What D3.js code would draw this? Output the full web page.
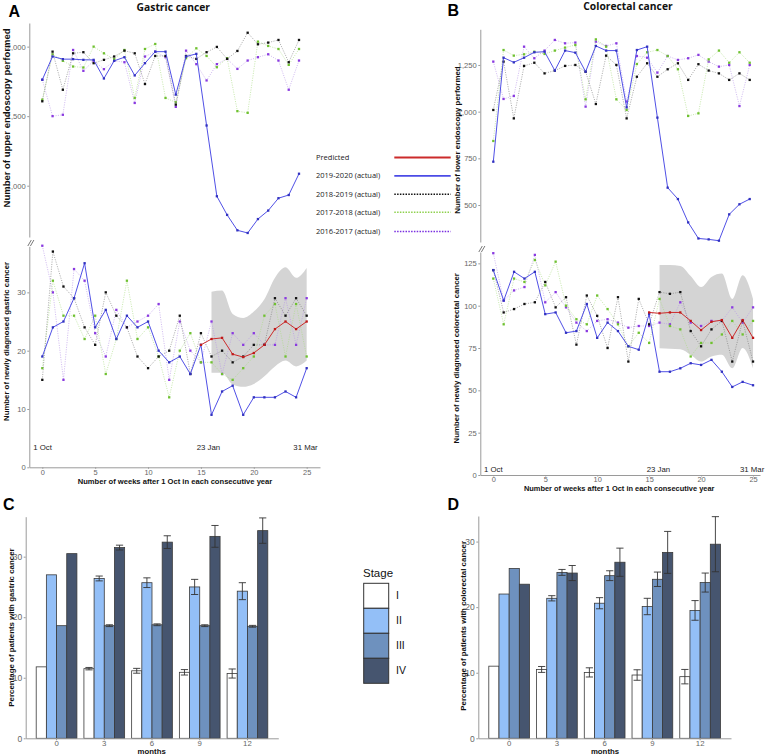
<!DOCTYPE html>
<html><head><meta charset="utf-8">
<script src="https://cdn.jsdelivr.net/npm/d3@7"></script>
<style>body{margin:0;background:#fff}svg{display:block}</style>
</head><body><svg id="c" width="767" height="755"></svg>
<script>
// ---------- DATA ----------
const weekTicks = [0, 5, 10, 15, 20, 25];
const seriesNames = ["Predicted", "2019-2020 (actual)", "2018-2019 (actual)", "2017-2018 (actual)", "2016-2017 (actual)"];

// Panel A top: upper endoscopy performed
const upperEndo2019 = [1762,1929,1910,1910,1905,1905,1771,1898,1924,1793,1881,1964,1964,1655,1929,1948,1433,924,790,679,660,760,821,910,933,1086];
const upperEndo2018 = [1607,1964,1690,1952,1960,1881,1905,1929,1971,1952,1731,1933,1933,1583,1933,1912,1960,1998,1912,1969,2100,2017,2029,2048,1888,2048];
const upperEndo2017 = [1619,1945,1898,1857,1850,2000,1952,1910,1976,1631,1983,2019,1631,1600,1917,1988,1933,1852,1917,1536,1524,2036,2005,1983,1869,1983];
const upperEndo2016 = [1762,1500,1510,1976,1826,1898,1838,1898,1888,1595,1929,1964,1924,1567,1971,1874,1757,1874,1912,1840,1900,1924,1945,1900,1690,1900];

// Panel A bottom: newly diagnosed gastric cancer
const gastric2019 = [19,24,25,29,35,24,27,22,26,24,25,20,18,19,16,21,9,13,14,9,12,12,12,13,12,17];
const gastric2018 = [15,37,31,29,24,21,30,26,24,19,17,19,20,26,16,23,19,20,18,19,21,21,29,26,29,26];
const gastric2017 = [17,32,26,26,22,26,16,22,32,22,24,19,12,20,23,18,18,16,15,17,19,26,28,19,28,19];
const gastric2016 = [38,30,15,34,32,23,19,27,24,25,26,28,15,25,20,18,25,16,23,21,23,21,21,29,21,29];
const predStart = 15;
const gastricPred = [21,22,22.2,19.4,18.9,19.6,21,23.7,25,23.7,25];
const bandStart = 16;
const gastricUpper = [30.1,30.3,26.3,25.6,26.7,28.8,32.5,34.3,32.5,34.2];
const gastricLower = [16.2,16.2,14.2,13.8,14.3,15.6,17.3,18.3,17.3,18.3];

// Panel B top: lower endoscopy performed
const lowerEndo2019 = [732,1289,1264,1289,1318,1321,1220,1327,1316,1214,1352,1327,1327,1023,1330,1348,968,593,532,407,321,316,309,450,504,532];
const lowerEndo2018 = [1009,1268,964,1245,1262,1205,1220,1245,1250,1214,1041,1300,1250,964,1187,1259,1187,1227,1259,1170,1254,1220,1205,1170,1205,1170];
const lowerEndo2017 = [843,1330,1300,1307,1321,1309,1327,1343,1357,1066,1387,1348,1066,1009,1255,1318,1330,1298,1227,977,991,1280,1327,1262,1318,1262];
const lowerEndo2016 = [1268,1068,1084,1348,1286,1327,1384,1366,1370,1027,1375,1352,1366,1054,1298,1289,1209,1298,1277,1286,1304,1268,1241,1250,1030,1250];

// Panel B bottom: newly diagnosed colorectal cancer
const crc2019 = [121,103,120,116,120,95,96,84,85,101,81,90,85,76,74,95,61,61,63,66,65,68,61,52,55,53];
const crc2018 = [121,96,98,101,102,114,99,105,77,106,94,75,105,67,104,89,108,107,108,85,76,86,91,67,91,67];
const crc2017 = [116,89,116,114,127,112,126,100,92,89,106,98,89,76,84,78,104,88,86,70,78,78,83,91,83,91];
const crc2016 = [131,103,109,111,130,102,108,99,90,85,91,92,90,87,88,88,90,89,102,90,88,91,91,99,90,99];
const crcPred = [96,95.5,96,96,91,85.6,90.5,91.5,81,91.5,81];
const crcUpper = [124,124,123.5,117.5,111,117,119,104,118,104];
const crcLower = [74.8,74.5,74.3,71,67,70,71,63,75,63];

// Panels C and D: stage distribution
const months = ["0","3","6","9","12"];
const stages = ["I","II","III","IV"];
const gastricStageI   = [11.8, 11.5, 11.15, 10.9, 10.7];
const gastricStageII  = [27.0, 26.4, 25.7, 25.0, 24.3];
const gastricStageIII = [18.6, 18.6, 18.75, 18.6, 18.5];
const gastricStageIV  = [30.5, 31.5, 32.4, 33.35, 34.3];
const gastricErrI   = [0, 0.2, 0.4, 0.45, 0.75];
const gastricErrII  = [0, 0.4, 0.8, 1.25, 1.4];
const gastricErrIII = [0, 0.15, 0.15, 0.15, 0.15];
const gastricErrIV  = [0, 0.4, 1.05, 1.8, 2.1];
const crcStageI   = [11.0, 10.5, 10.05, 9.65, 9.4];
const crcStageII  = [22.0, 21.35, 20.6, 20.1, 19.5];
const crcStageIII = [25.9, 25.3, 24.8, 24.25, 23.75];
const crcStageIV  = [23.5, 25.2, 26.85, 28.35, 29.6];
const crcErrI   = [0, 0.45, 0.7, 0.8, 1.1];
const crcErrII  = [0, 0.4, 0.85, 1.25, 1.5];
const crcErrIII = [0, 0.45, 0.75, 1.1, 1.45];
const crcErrIV  = [0, 1.15, 2.15, 3.2, 4.2];

// ---------- STYLE ----------
const ST = {
  pred: {line:"#cc2b2b", pt:"#c01818", w:1.0, dash:null},
  y2019:{line:"#5050e6", pt:"#3232c0", w:1.0, dash:null},
  y2018:{line:"#777", pt:"#111", w:0.6, dash:"1.1,1.3"},
  y2017:{line:"#a8dc80", pt:"#6fc130", w:0.6, dash:"1.1,1.3"},
  y2016:{line:"#b592e8", pt:"#8a3ae0", w:0.6, dash:"1.1,1.3"}
};
const legendColors = ["#cc2b2b","#4b4be6","#111","#8fd14f","#7a2fe0"];
const stageColors = ["#ffffff","#93bff7","#6e91be","#46556f"];
const SANS = "Liberation Sans, Arial, sans-serif";
const OPEN = "Open Sans, sans-serif";

const svg = d3.select("#c");
svg.append("rect").attr("width",767).attr("height",755).attr("fill","#fff");

function text(x,y,s,o={}) {
  const t = svg.append("text").attr("x",x).attr("y",y).text(s)
    .attr("font-family",o.ff||SANS).attr("font-size",o.fs||8)
    .attr("font-weight",o.fw||"normal").attr("fill",o.fill||"#111")
    .attr("text-anchor",o.anchor||"start");
  if (o.rot) t.attr("transform",`rotate(-90,${x},${y})`);
  return t;
}
function styleAxis(g, fs) {
  g.attr("font-family",SANS).attr("font-size",fs);
  g.select(".domain").attr("stroke","#9a9a9a").attr("stroke-width",1);
  g.selectAll(".tick line").attr("stroke","#9a9a9a");
  g.selectAll(".tick text").attr("fill","#666");
}
function drawSeries(g, x, y, vals, st, start=0) {
  const line = d3.line().x((d,i)=>x(i+start)).y(d=>y(d));
  g.append("path").datum(vals).attr("d",line).attr("fill","none")
    .attr("stroke",st.line).attr("stroke-width",st.w)
    .attr("stroke-dasharray",st.dash);
  g.selectAll(null).data(vals).join("rect")
    .attr("x",(d,i)=>x(i+start)-1.15).attr("y",d=>y(d)-1.15)
    .attr("width",2.3).attr("height",2.3).attr("fill",st.pt);
}
function breakMark(x,y) {
  [0,2.6].forEach(o=>svg.append("line").attr("x1",x-2+o).attr("y1",y+3).attr("x2",x+1.5+o).attr("y2",y-3)
    .attr("stroke","#555").attr("stroke-width",0.8));
}

function linePanel(cfg) {
  const xt = d3.scaleLinear().domain([0,25]).range(cfg.topX);
  const yt = d3.scaleLinear().domain(cfg.topDom).range(cfg.topY);
  const gt = svg.append("g");
  [["y2016",cfg.top[3]],["y2017",cfg.top[2]],["y2018",cfg.top[1]],["y2019",cfg.top[0]]]
    .forEach(([k,v])=>drawSeries(gt,xt,yt,v,ST[k]));
  const ay = svg.append("g").attr("transform",`translate(${cfg.axisX},0)`)
    .call(d3.axisLeft(yt).tickValues(cfg.topTicks).tickSize(2).tickSizeOuter(0).tickPadding(1.5));
  styleAxis(ay, cfg.tickFs);

  const xb = d3.scaleLinear().domain(cfg.botXDom).range(cfg.botXRange);
  const yb = d3.scaleLinear().domain(cfg.botDom).range(cfg.botY);
  const gb = svg.append("g");
  const area = d3.area().x((d,i)=>xb(i+bandStart)).y0((d,i)=>yb(cfg.lower[i])).y1(d=>yb(d)).curve(d3.curveMonotoneX);
  gb.append("path").datum(cfg.upper).attr("d",area).attr("fill","#d4d4d4");
  [["y2016",cfg.bot[3]],["y2017",cfg.bot[2]],["y2018",cfg.bot[1]],["y2019",cfg.bot[0]]]
    .forEach(([k,v])=>drawSeries(gb,xb,yb,v,ST[k]));
  drawSeries(gb,xb,yb,cfg.pred,ST.pred,predStart);
  const by = svg.append("g").attr("transform",`translate(${cfg.axisX},0)`)
    .call(d3.axisLeft(yb).tickValues(cfg.botTicks).tickSize(2).tickSizeOuter(0).tickPadding(1.5));
  styleAxis(by, cfg.tickFs);
  const bx = svg.append("g").attr("transform",`translate(0,${cfg.botY[0]})`)
    .call(d3.axisBottom(xb).tickValues(weekTicks).tickSize(1.5).tickSizeOuter(0).tickPadding(0.5));
  styleAxis(bx, 7.4);
  breakMark(cfg.axisX+0.5, cfg.breakY);
  cfg.dates.forEach(([s,xx])=>text(xx,cfg.dateY,s,{fs:7.8,fill:"#222"}));
}

linePanel({
  top:[upperEndo2019,upperEndo2018,upperEndo2017,upperEndo2016],
  topX:[42.3,299], topDom:[631,2170], topY:[237,23], topTicks:[1000,1500,2000],
  axisX:29.3, tickFs:7.6,
  bot:[gastric2019,gastric2018,gastric2017,gastric2016], pred:gastricPred,
  upper:gastricUpper, lower:gastricLower,
  botXDom:[-1.23,26.26], botXRange:[29.3,320], botDom:[0,37.9], botY:[467.3,246.3], botTicks:[0,10,20,30],
  breakY:243, dateY:449.5, dates:[["1 Oct",33.3],["23 Jan",196.7],["31 Mar",293.3]]
});
linePanel({
  top:[lowerEndo2019,lowerEndo2018,lowerEndo2017,lowerEndo2016],
  topX:[493.3,749.7], topDom:[302,1441], topY:[242,29.3], topTicks:[500,750,1000,1250],
  axisX:480.3, tickFs:7.6,
  bot:[crc2019,crc2018,crc2017,crc2016], pred:crcPred,
  upper:crcUpper, lower:crcLower,
  botXDom:[-1.25,25.67], botXRange:[480.3,760], botDom:[0,131.7], botY:[475,252], botTicks:[0,25,50,75,100,125],
  breakY:249, dateY:471.5, dates:[["1 Oct",484],["23 Jan",646.7],["31 Mar",740]]
});

// titles A/B
text(8.5,16.5,"A",{fs:16,fw:"bold",fill:"#000"});
text(173.3,10.5,"Gastric cancer",{ff:OPEN,fs:10.3,fw:"bold",anchor:"middle",fill:"#111"});
text(447.5,15.5,"B",{fs:16,fw:"bold",fill:"#000"});
text(628,9.5,"Colorectal cancer",{ff:OPEN,fs:10.3,fw:"bold",anchor:"middle",fill:"#111"});
text(9.7,118,"Number of upper endoscopy performed",{fs:9.5,fw:"bold",anchor:"middle",rot:true});
text(9.3,341.5,"Number of newly diagnosed gastric cancer",{fs:7.8,fw:"bold",anchor:"middle",rot:true});
text(175,483.5,"Number of weeks after 1 Oct in each consecutive year",{fs:7.6,fw:"bold",anchor:"middle"});
text(460,140,"Number of lower endoscopy performed",{fs:7.9,fw:"bold",anchor:"middle",rot:true});
text(459.5,358.3,"Number of newly diagnosed colorectal cancer",{fs:7.8,fw:"bold",anchor:"middle",rot:true});
text(619.2,491,"Number of weeks after 1 Oct in each consecutive year",{fs:7.45,fw:"bold",anchor:"middle"});

// series legend
const legY = [157.5,175.8,194.3,212.3,231.5];
seriesNames.forEach((s,i)=>{
  text(316,legY[i]+2.6,s,{ff:OPEN,fs:7.5,fill:"#222"});
  svg.append("line").attr("x1",394.3).attr("x2",450.7).attr("y1",legY[i]).attr("y2",legY[i])
    .attr("stroke", legendColors[i])
    .attr("stroke-width", i<2 ? 1.8 : 1.6)
    .attr("stroke-dasharray", i<2 ? null : "1.5,1.3");
});

// ---------- BAR PANELS ----------
function barPanel(cfg) {
  const x0 = d3.scaleBand().domain(months).range(cfg.xr).paddingInner(0.147).paddingOuter(0.22);
  const x1 = d3.scaleBand().domain(stages).range([0,x0.bandwidth()]);
  const y = d3.scaleLinear().domain(cfg.yd).range([738.3, cfg.top]);
  const g = svg.append("g");
  stages.forEach((s,si)=>{
    const vals = cfg.vals[si];
    months.forEach((m,mi)=>{
      const bx = x0(m)+x1(s);
      g.append("rect").attr("x",bx).attr("y",y(vals[mi])).attr("width",x1.bandwidth())
        .attr("height",y(0)-y(vals[mi])).attr("fill",stageColors[si]).attr("stroke","#3a3a3a").attr("stroke-width",0.8);
    });
  });
  stages.forEach((s,si)=>{
    const vals = cfg.vals[si], errs = cfg.errs[si];
    months.forEach((m,mi)=>{
      if (!errs[mi]) return;
      const cx = x0(m)+x1(s)+x1.bandwidth()/2;
      const lo = y(vals[mi]-errs[mi]), hi = y(vals[mi]+errs[mi]);
      g.append("line").attr("x1",cx).attr("x2",cx).attr("y1",lo).attr("y2",hi).attr("stroke","#333").attr("stroke-width",0.9);
      [lo,hi].forEach(yy=>g.append("line").attr("x1",cx-3.6).attr("x2",cx+3.6).attr("y1",yy).attr("y2",yy).attr("stroke","#333").attr("stroke-width",0.9));
    });
  });
  const ay = svg.append("g").attr("transform",`translate(${cfg.xr[0]},0)`)
    .call(d3.axisLeft(y).tickValues([0,10,20,30]).tickSize(2).tickSizeOuter(0).tickPadding(1.5));
  styleAxis(ay, 8.5);
  const ax = svg.append("g").attr("transform",`translate(0,738.3)`)
    .call(d3.axisBottom(x0).tickSize(2).tickSizeOuter(0).tickPadding(0.3));
  styleAxis(ax, 7.8);
  text(cfg.mx,754,"months",{fs:7.8,fw:"bold",anchor:"middle"});
  text(cfg.tx,cfg.ty,cfg.title,{fs:7.9,fw:"bold",anchor:"middle",rot:true});
}
barPanel({xr:[25.7,278.3], yd:[0,36.6], top:516.7,
  vals:[gastricStageI,gastricStageII,gastricStageIII,gastricStageIV],
  errs:[gastricErrI,gastricErrII,gastricErrIII,gastricErrIV],
  mx:151.7, tx:13.5, ty:627.5, title:"Percentage of patients with gastric cancer"});
barPanel({xr:[478.3,731], yd:[0,33.9], top:516,
  vals:[crcStageI,crcStageII,crcStageIII,crcStageIV],
  errs:[crcErrI,crcErrII,crcErrIII,crcErrIV],
  mx:605, tx:466, ty:625.8, title:"Percentage of patients with colorectal cancer"});
text(3,510,"C",{fs:16,fw:"bold",fill:"#000"});
text(447.5,510,"D",{fs:16,fw:"bold",fill:"#000"});

// stage legend
text(363,576.5,"Stage",{fs:11.5,fill:"#111"});
stages.forEach((s,i)=>{
  svg.append("rect").attr("x",363.7).attr("y",583.3+25*i).attr("width",25).attr("height",25)
    .attr("fill",stageColors[i]).attr("stroke","#333").attr("stroke-width",1);
  text(396,583.3+25*i+16,s,{fs:10.5,fill:"#111"});
});
</script>
</body></html>
